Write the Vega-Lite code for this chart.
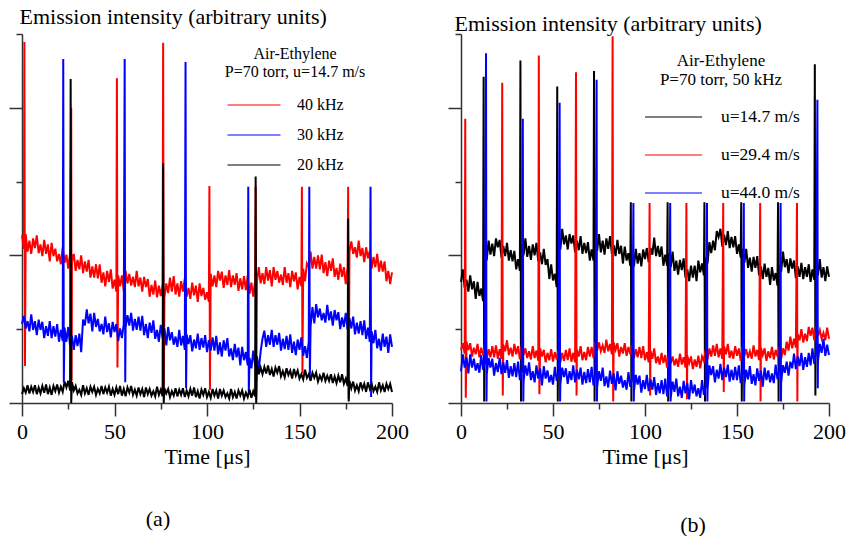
{
"$schema": "https://vega.github.io/schema/vega-lite/v6.json",
"background": "white",
"padding": {"left": 8, "top": 5, "right": 0, "bottom": 0},
"config": {
 "view": {"stroke": null},
 "axis": {"labelFont": "Liberation Serif", "titleFont": "Liberation Serif", "labelColor": "#000", "titleColor": "#000", "domainColor": "#333", "tickColor": "#333", "grid": false, "titleFontWeight": "normal", "labelFontSize": 22, "titleFontSize": 22, "domainWidth": 1.5, "tickWidth": 1.5},
 "legend": {"labelFont": "Liberation Serif", "titleFont": "Liberation Serif", "labelColor": "#000", "titleColor": "#000", "titleFontWeight": "normal", "zindex": 5},
 "title": {"font": "Liberation Serif", "fontWeight": "normal", "fontSize": 22, "color": "#000"}
},
"datasets": {
"aR": [{"s":"r","t":0,"v":2.27},{"s":"r","t":1,"v":2.09},{"s":"r","t":1.3,"v":4.89},{"s":"r","t":1.6,"v":0.5},{"s":"r","t":2,"v":2.29},{"s":"r","t":3,"v":2.05},{"s":"r","t":4,"v":2.2},{"s":"r","t":5,"v":2.02},{"s":"r","t":6,"v":2.23},{"s":"r","t":7,"v":2.1},{"s":"r","t":8,"v":2.27},{"s":"r","t":9,"v":2.03},{"s":"r","t":10,"v":2.15},{"s":"r","t":11,"v":1.99},{"s":"r","t":12,"v":2.21},{"s":"r","t":13,"v":2.02},{"s":"r","t":14,"v":2.15},{"s":"r","t":15,"v":1.92},{"s":"r","t":16,"v":2.17},{"s":"r","t":17,"v":1.99},{"s":"r","t":18,"v":2.09},{"s":"r","t":19,"v":1.92},{"s":"r","t":20,"v":2.02},{"s":"r","t":21,"v":1.88},{"s":"r","t":22,"v":2.11},{"s":"r","t":23,"v":1.9},{"s":"r","t":24,"v":2.01},{"s":"r","t":25,"v":1.82},{"s":"r","t":26,"v":2.03},{"s":"r","t":26.6,"v":4.0},{"s":"r","t":26.8,"v":0.3},{"s":"r","t":27,"v":1.92},{"s":"r","t":28,"v":2.02},{"s":"r","t":29,"v":1.79},{"s":"r","t":30,"v":1.94},{"s":"r","t":31,"v":1.81},{"s":"r","t":32,"v":2.0},{"s":"r","t":33,"v":1.76},{"s":"r","t":34,"v":1.92},{"s":"r","t":35,"v":1.78},{"s":"r","t":36,"v":1.94},{"s":"r","t":37,"v":1.7},{"s":"r","t":38,"v":1.85},{"s":"r","t":39,"v":1.7},{"s":"r","t":40,"v":1.88},{"s":"r","t":41,"v":1.69},{"s":"r","t":42,"v":1.88},{"s":"r","t":43,"v":1.63},{"s":"r","t":44,"v":1.77},{"s":"r","t":45,"v":1.58},{"s":"r","t":46,"v":1.79},{"s":"r","t":47,"v":1.64},{"s":"r","t":48,"v":1.81},{"s":"r","t":49,"v":1.55},{"s":"r","t":50,"v":1.67},{"s":"r","t":51,"v":1.51},{"s":"r","t":51.3,"v":4.4},{"s":"r","t":51.6,"v":0.48},{"s":"r","t":52,"v":1.73},{"s":"r","t":53,"v":1.58},{"s":"r","t":54,"v":1.73},{"s":"r","t":55,"v":1.52},{"s":"r","t":56,"v":1.79},{"s":"r","t":57,"v":1.62},{"s":"r","t":58,"v":1.75},{"s":"r","t":59,"v":1.59},{"s":"r","t":60,"v":1.71},{"s":"r","t":61,"v":1.57},{"s":"r","t":62,"v":1.79},{"s":"r","t":63,"v":1.58},{"s":"r","t":64,"v":1.7},{"s":"r","t":65,"v":1.51},{"s":"r","t":66,"v":1.71},{"s":"r","t":67,"v":1.57},{"s":"r","t":68,"v":1.68},{"s":"r","t":69,"v":1.44},{"s":"r","t":70,"v":1.6},{"s":"r","t":71,"v":1.47},{"s":"r","t":72,"v":1.66},{"s":"r","t":73,"v":1.43},{"s":"r","t":74,"v":1.59},{"s":"r","t":75,"v":1.45},{"s":"r","t":76,"v":1.61},{"s":"r","t":76.3,"v":4.88},{"s":"r","t":76.6,"v":0.1},{"s":"r","t":77,"v":1.43},{"s":"r","t":78,"v":1.62},{"s":"r","t":79,"v":1.49},{"s":"r","t":80,"v":1.7},{"s":"r","t":81,"v":1.51},{"s":"r","t":82,"v":1.72},{"s":"r","t":83,"v":1.47},{"s":"r","t":84,"v":1.62},{"s":"r","t":85,"v":1.44},{"s":"r","t":86,"v":1.65},{"s":"r","t":87,"v":1.51},{"s":"r","t":88,"v":1.69},{"s":"r","t":89,"v":1.44},{"s":"r","t":90,"v":1.56},{"s":"r","t":91,"v":1.41},{"s":"r","t":92,"v":1.63},{"s":"r","t":93,"v":1.46},{"s":"r","t":94,"v":1.59},{"s":"r","t":95,"v":1.37},{"s":"r","t":96,"v":1.62},{"s":"r","t":97,"v":1.45},{"s":"r","t":98,"v":1.56},{"s":"r","t":99,"v":1.4},{"s":"r","t":100,"v":1.5},{"s":"r","t":101,"v":1.37},{"s":"r","t":101.3,"v":2.94},{"s":"r","t":101.6,"v":0.18},{"s":"r","t":102,"v":1.75},{"s":"r","t":103,"v":1.58},{"s":"r","t":104,"v":1.73},{"s":"r","t":105,"v":1.57},{"s":"r","t":106,"v":1.79},{"s":"r","t":107,"v":1.66},{"s":"r","t":108,"v":1.78},{"s":"r","t":109,"v":1.56},{"s":"r","t":110,"v":1.73},{"s":"r","t":111,"v":1.6},{"s":"r","t":112,"v":1.8},{"s":"r","t":113,"v":1.57},{"s":"r","t":114,"v":1.73},{"s":"r","t":115,"v":1.6},{"s":"r","t":116,"v":1.76},{"s":"r","t":117,"v":1.52},{"s":"r","t":118,"v":1.69},{"s":"r","t":119,"v":1.54},{"s":"r","t":120,"v":1.72},{"s":"r","t":121,"v":1.53},{"s":"r","t":122,"v":1.73},{"s":"r","t":123,"v":1.48},{"s":"r","t":124,"v":1.63},{"s":"r","t":125,"v":1.44},{"s":"r","t":126,"v":1.65},{"s":"r","t":126.3,"v":2.93},{"s":"r","t":126.6,"v":0.05},{"s":"r","t":127,"v":1.64},{"s":"r","t":128,"v":1.84},{"s":"r","t":129,"v":1.62},{"s":"r","t":130,"v":1.76},{"s":"r","t":131,"v":1.61},{"s":"r","t":132,"v":1.84},{"s":"r","t":133,"v":1.66},{"s":"r","t":134,"v":1.8},{"s":"r","t":135,"v":1.58},{"s":"r","t":136,"v":1.84},{"s":"r","t":137,"v":1.67},{"s":"r","t":138,"v":1.79},{"s":"r","t":139,"v":1.63},{"s":"r","t":140,"v":1.74},{"s":"r","t":141,"v":1.6},{"s":"r","t":142,"v":1.84},{"s":"r","t":143,"v":1.63},{"s":"r","t":144,"v":1.76},{"s":"r","t":145,"v":1.57},{"s":"r","t":146,"v":1.79},{"s":"r","t":147,"v":1.65},{"s":"r","t":148,"v":1.77},{"s":"r","t":149,"v":1.54},{"s":"r","t":150,"v":1.71},{"s":"r","t":151,"v":1.58},{"s":"r","t":151.3,"v":2.93},{"s":"r","t":151.6,"v":0.4},{"s":"r","t":152,"v":1.82},{"s":"r","t":153,"v":1.65},{"s":"r","t":154,"v":1.89},{"s":"r","t":155,"v":1.84},{"s":"r","t":156,"v":2.05},{"s":"r","t":157,"v":1.82},{"s":"r","t":158,"v":1.98},{"s":"r","t":159,"v":1.82},{"s":"r","t":160,"v":2.0},{"s":"r","t":161,"v":1.81},{"s":"r","t":162,"v":2.01},{"s":"r","t":163,"v":1.76},{"s":"r","t":164,"v":1.91},{"s":"r","t":165,"v":1.72},{"s":"r","t":166,"v":1.93},{"s":"r","t":167,"v":1.79},{"s":"r","t":168,"v":1.96},{"s":"r","t":169,"v":1.71},{"s":"r","t":170,"v":1.83},{"s":"r","t":171,"v":1.67},{"s":"r","t":172,"v":1.89},{"s":"r","t":173,"v":1.71},{"s":"r","t":174,"v":1.84},{"s":"r","t":175,"v":1.61},{"s":"r","t":176,"v":1.85},{"s":"r","t":176.3,"v":2.93},{"s":"r","t":176.6,"v":0.05},{"s":"r","t":177,"v":2.05},{"s":"r","t":178,"v":2.19},{"s":"r","t":179,"v":2.02},{"s":"r","t":180,"v":2.11},{"s":"r","t":181,"v":1.97},{"s":"r","t":182,"v":2.2},{"s":"r","t":183,"v":1.99},{"s":"r","t":184,"v":2.1},{"s":"r","t":185,"v":1.91},{"s":"r","t":186,"v":2.11},{"s":"r","t":187,"v":1.96},{"s":"r","t":188,"v":2.06},{"s":"r","t":189,"v":1.82},{"s":"r","t":190,"v":1.98},{"s":"r","t":191,"v":1.84},{"s":"r","t":192,"v":2.02},{"s":"r","t":193,"v":1.78},{"s":"r","t":194,"v":1.93},{"s":"r","t":195,"v":1.78},{"s":"r","t":196,"v":1.92},{"s":"r","t":197,"v":1.65},{"s":"r","t":198,"v":1.79},{"s":"r","t":199,"v":1.61},{"s":"r","t":200,"v":1.77}],
"aB": [{"s":"b","t":0,"v":1.07},{"s":"b","t":1,"v":1.18},{"s":"b","t":2,"v":1.01},{"s":"b","t":3,"v":1.11},{"s":"b","t":4,"v":0.97},{"s":"b","t":5,"v":1.2},{"s":"b","t":6,"v":0.99},{"s":"b","t":7,"v":1.11},{"s":"b","t":8,"v":0.92},{"s":"b","t":9,"v":1.13},{"s":"b","t":10,"v":0.99},{"s":"b","t":11,"v":1.1},{"s":"b","t":12,"v":0.88},{"s":"b","t":13,"v":1.04},{"s":"b","t":14,"v":0.91},{"s":"b","t":15,"v":1.11},{"s":"b","t":16,"v":0.88},{"s":"b","t":17,"v":1.04},{"s":"b","t":18,"v":0.9},{"s":"b","t":19,"v":1.07},{"s":"b","t":20,"v":0.83},{"s":"b","t":21,"v":0.99},{"s":"b","t":22,"v":0.84},{"s":"b","t":22.3,"v":4.66},{"s":"b","t":22.6,"v":0.28},{"s":"b","t":23,"v":1.02},{"s":"b","t":24,"v":0.83},{"s":"b","t":25,"v":1.03},{"s":"b","t":26,"v":0.77},{"s":"b","t":27,"v":0.91},{"s":"b","t":28,"v":0.72},{"s":"b","t":29,"v":0.92},{"s":"b","t":30,"v":0.77},{"s":"b","t":31,"v":0.94},{"s":"b","t":32,"v":0.69},{"s":"b","t":33,"v":1.13},{"s":"b","t":34,"v":1.05},{"s":"b","t":35,"v":1.27},{"s":"b","t":36,"v":1.08},{"s":"b","t":37,"v":1.21},{"s":"b","t":38,"v":0.97},{"s":"b","t":39,"v":1.22},{"s":"b","t":40,"v":1.03},{"s":"b","t":41,"v":1.14},{"s":"b","t":42,"v":0.97},{"s":"b","t":43,"v":1.07},{"s":"b","t":44,"v":0.93},{"s":"b","t":45,"v":1.17},{"s":"b","t":46,"v":0.96},{"s":"b","t":47,"v":1.08},{"s":"b","t":48,"v":0.89},{"s":"b","t":49,"v":1.1},{"s":"b","t":50,"v":0.96},{"s":"b","t":51,"v":1.07},{"s":"b","t":52,"v":0.84},{"s":"b","t":53,"v":1.01},{"s":"b","t":54,"v":0.88},{"s":"b","t":55,"v":1.07},{"s":"b","t":55.5,"v":4.66},{"s":"b","t":55.8,"v":0.28},{"s":"b","t":56,"v":1.02},{"s":"b","t":57,"v":1.19},{"s":"b","t":58,"v":1.05},{"s":"b","t":59,"v":1.22},{"s":"b","t":60,"v":0.98},{"s":"b","t":61,"v":1.14},{"s":"b","t":62,"v":0.99},{"s":"b","t":63,"v":1.17},{"s":"b","t":64,"v":0.98},{"s":"b","t":65,"v":1.18},{"s":"b","t":66,"v":0.92},{"s":"b","t":67,"v":1.07},{"s":"b","t":68,"v":0.88},{"s":"b","t":69,"v":1.09},{"s":"b","t":70,"v":0.95},{"s":"b","t":71,"v":1.12},{"s":"b","t":72,"v":0.87},{"s":"b","t":73,"v":0.99},{"s":"b","t":74,"v":0.83},{"s":"b","t":75,"v":1.06},{"s":"b","t":76,"v":0.88},{"s":"b","t":77,"v":1.01},{"s":"b","t":78,"v":0.78},{"s":"b","t":79,"v":1.03},{"s":"b","t":80,"v":0.85},{"s":"b","t":81,"v":0.96},{"s":"b","t":82,"v":0.79},{"s":"b","t":83,"v":0.9},{"s":"b","t":84,"v":0.76},{"s":"b","t":85,"v":0.99},{"s":"b","t":86,"v":0.78},{"s":"b","t":87,"v":0.91},{"s":"b","t":88,"v":0.72},{"s":"b","t":88.4,"v":4.62},{"s":"b","t":88.7,"v":0.2},{"s":"b","t":89,"v":0.93},{"s":"b","t":90,"v":0.8},{"s":"b","t":91,"v":0.92},{"s":"b","t":92,"v":0.7},{"s":"b","t":93,"v":0.86},{"s":"b","t":94,"v":0.74},{"s":"b","t":95,"v":0.94},{"s":"b","t":96,"v":0.72},{"s":"b","t":97,"v":0.88},{"s":"b","t":98,"v":0.75},{"s":"b","t":99,"v":0.92},{"s":"b","t":100,"v":0.69},{"s":"b","t":101,"v":0.85},{"s":"b","t":102,"v":0.71},{"s":"b","t":103,"v":0.89},{"s":"b","t":104,"v":0.71},{"s":"b","t":105,"v":0.91},{"s":"b","t":106,"v":0.66},{"s":"b","t":107,"v":0.82},{"s":"b","t":108,"v":0.63},{"s":"b","t":109,"v":0.85},{"s":"b","t":110,"v":0.71},{"s":"b","t":111,"v":0.88},{"s":"b","t":112,"v":0.63},{"s":"b","t":113,"v":0.74},{"s":"b","t":114,"v":0.58},{"s":"b","t":115,"v":0.8},{"s":"b","t":116,"v":0.62},{"s":"b","t":117,"v":0.75},{"s":"b","t":118,"v":0.51},{"s":"b","t":119,"v":0.76},{"s":"b","t":120,"v":0.58},{"s":"b","t":121,"v":0.69},{"s":"b","t":122,"v":0.51},{"s":"b","t":122.3,"v":2.93},{"s":"b","t":122.6,"v":0.13},{"s":"b","t":123,"v":0.61},{"s":"b","t":124,"v":0.47},{"s":"b","t":125,"v":0.71},{"s":"b","t":126,"v":0.51},{"s":"b","t":127,"v":0.63},{"s":"b","t":128,"v":0.45},{"s":"b","t":129,"v":0.7},{"s":"b","t":130,"v":0.87},{"s":"b","t":131,"v":0.98},{"s":"b","t":132,"v":0.76},{"s":"b","t":133,"v":0.92},{"s":"b","t":134,"v":0.79},{"s":"b","t":135,"v":0.99},{"s":"b","t":136,"v":0.76},{"s":"b","t":137,"v":0.92},{"s":"b","t":138,"v":0.79},{"s":"b","t":139,"v":0.95},{"s":"b","t":140,"v":0.71},{"s":"b","t":141,"v":0.87},{"s":"b","t":142,"v":0.73},{"s":"b","t":143,"v":0.91},{"s":"b","t":144,"v":0.72},{"s":"b","t":145,"v":0.93},{"s":"b","t":146,"v":0.68},{"s":"b","t":147,"v":0.83},{"s":"b","t":148,"v":0.65},{"s":"b","t":149,"v":0.86},{"s":"b","t":150,"v":0.72},{"s":"b","t":151,"v":0.89},{"s":"b","t":152,"v":0.64},{"s":"b","t":153,"v":0.77},{"s":"b","t":154,"v":0.61},{"s":"b","t":155,"v":0.83},{"s":"b","t":155.3,"v":2.93},{"s":"b","t":155.6,"v":0.35},{"s":"b","t":156,"v":1.04},{"s":"b","t":157,"v":1.3},{"s":"b","t":158,"v":1.08},{"s":"b","t":159,"v":1.34},{"s":"b","t":160,"v":1.16},{"s":"b","t":161,"v":1.28},{"s":"b","t":162,"v":1.12},{"s":"b","t":163,"v":1.22},{"s":"b","t":164,"v":1.09},{"s":"b","t":165,"v":1.33},{"s":"b","t":166,"v":1.12},{"s":"b","t":167,"v":1.24},{"s":"b","t":168,"v":1.05},{"s":"b","t":169,"v":1.26},{"s":"b","t":170,"v":1.12},{"s":"b","t":171,"v":1.23},{"s":"b","t":172,"v":1.0},{"s":"b","t":173,"v":1.16},{"s":"b","t":174,"v":1.03},{"s":"b","t":175,"v":1.22},{"s":"b","t":176,"v":0.99},{"s":"b","t":177,"v":1.15},{"s":"b","t":178,"v":1.01},{"s":"b","t":179,"v":1.17},{"s":"b","t":180,"v":0.93},{"s":"b","t":181,"v":1.09},{"s":"b","t":182,"v":0.94},{"s":"b","t":183,"v":1.11},{"s":"b","t":184,"v":0.92},{"s":"b","t":185,"v":1.12},{"s":"b","t":186,"v":0.87},{"s":"b","t":187,"v":1.02},{"s":"b","t":188,"v":0.83},{"s":"b","t":188.4,"v":2.93},{"s":"b","t":188.7,"v":0.08},{"s":"b","t":189,"v":0.97},{"s":"b","t":190,"v":0.81},{"s":"b","t":191,"v":0.99},{"s":"b","t":192,"v":0.74},{"s":"b","t":193,"v":0.87},{"s":"b","t":194,"v":0.71},{"s":"b","t":195,"v":0.94},{"s":"b","t":196,"v":0.76},{"s":"b","t":197,"v":0.9},{"s":"b","t":198,"v":0.68},{"s":"b","t":199,"v":0.93},{"s":"b","t":200,"v":0.76}],
"aK": [{"s":"k","t":0,"v":0.12},{"s":"k","t":1,"v":0.2},{"s":"k","t":2,"v":0.14},{"s":"k","t":3,"v":0.24},{"s":"k","t":4,"v":0.13},{"s":"k","t":5,"v":0.22},{"s":"k","t":6,"v":0.15},{"s":"k","t":7,"v":0.24},{"s":"k","t":8,"v":0.12},{"s":"k","t":9,"v":0.21},{"s":"k","t":10,"v":0.13},{"s":"k","t":11,"v":0.23},{"s":"k","t":12,"v":0.14},{"s":"k","t":13,"v":0.25},{"s":"k","t":14,"v":0.12},{"s":"k","t":15,"v":0.21},{"s":"k","t":16,"v":0.11},{"s":"k","t":17,"v":0.23},{"s":"k","t":18,"v":0.16},{"s":"k","t":19,"v":0.25},{"s":"k","t":20,"v":0.14},{"s":"k","t":21,"v":0.22},{"s":"k","t":22,"v":0.15},{"s":"k","t":23,"v":0.29},{"s":"k","t":24,"v":0.21},{"s":"k","t":25,"v":0.3},{"s":"k","t":26,"v":0.17},{"s":"k","t":26.3,"v":4.39},{"s":"k","t":26.6,"v":0.0},{"s":"k","t":27,"v":0.28},{"s":"k","t":28,"v":0.17},{"s":"k","t":29,"v":0.23},{"s":"k","t":30,"v":0.13},{"s":"k","t":31,"v":0.18},{"s":"k","t":32,"v":0.11},{"s":"k","t":33,"v":0.24},{"s":"k","t":34,"v":0.13},{"s":"k","t":35,"v":0.2},{"s":"k","t":36,"v":0.11},{"s":"k","t":37,"v":0.22},{"s":"k","t":38,"v":0.15},{"s":"k","t":39,"v":0.22},{"s":"k","t":40,"v":0.11},{"s":"k","t":41,"v":0.19},{"s":"k","t":42,"v":0.13},{"s":"k","t":43,"v":0.23},{"s":"k","t":44,"v":0.12},{"s":"k","t":45,"v":0.21},{"s":"k","t":46,"v":0.14},{"s":"k","t":47,"v":0.22},{"s":"k","t":48,"v":0.1},{"s":"k","t":49,"v":0.19},{"s":"k","t":50,"v":0.11},{"s":"k","t":51,"v":0.21},{"s":"k","t":52,"v":0.12},{"s":"k","t":53,"v":0.23},{"s":"k","t":54,"v":0.1},{"s":"k","t":55,"v":0.19},{"s":"k","t":56,"v":0.09},{"s":"k","t":57,"v":0.21},{"s":"k","t":58,"v":0.14},{"s":"k","t":59,"v":0.23},{"s":"k","t":60,"v":0.11},{"s":"k","t":61,"v":0.18},{"s":"k","t":62,"v":0.1},{"s":"k","t":63,"v":0.21},{"s":"k","t":64,"v":0.12},{"s":"k","t":65,"v":0.19},{"s":"k","t":66,"v":0.08},{"s":"k","t":67,"v":0.21},{"s":"k","t":68,"v":0.12},{"s":"k","t":69,"v":0.19},{"s":"k","t":70,"v":0.1},{"s":"k","t":71,"v":0.16},{"s":"k","t":72,"v":0.09},{"s":"k","t":73,"v":0.22},{"s":"k","t":74,"v":0.11},{"s":"k","t":75,"v":0.18},{"s":"k","t":76,"v":0.09},{"s":"k","t":76.3,"v":3.25},{"s":"k","t":76.6,"v":0.0},{"s":"k","t":77,"v":0.2},{"s":"k","t":78,"v":0.13},{"s":"k","t":79,"v":0.19},{"s":"k","t":80,"v":0.08},{"s":"k","t":81,"v":0.16},{"s":"k","t":82,"v":0.1},{"s":"k","t":83,"v":0.2},{"s":"k","t":84,"v":0.09},{"s":"k","t":85,"v":0.18},{"s":"k","t":86,"v":0.11},{"s":"k","t":87,"v":0.2},{"s":"k","t":88,"v":0.08},{"s":"k","t":89,"v":0.17},{"s":"k","t":90,"v":0.09},{"s":"k","t":91,"v":0.19},{"s":"k","t":92,"v":0.1},{"s":"k","t":93,"v":0.21},{"s":"k","t":94,"v":0.08},{"s":"k","t":95,"v":0.16},{"s":"k","t":96,"v":0.06},{"s":"k","t":97,"v":0.18},{"s":"k","t":98,"v":0.11},{"s":"k","t":99,"v":0.2},{"s":"k","t":100,"v":0.08},{"s":"k","t":101,"v":0.15},{"s":"k","t":102,"v":0.07},{"s":"k","t":103,"v":0.19},{"s":"k","t":104,"v":0.1},{"s":"k","t":105,"v":0.17},{"s":"k","t":106,"v":0.06},{"s":"k","t":107,"v":0.19},{"s":"k","t":108,"v":0.1},{"s":"k","t":109,"v":0.17},{"s":"k","t":110,"v":0.08},{"s":"k","t":111,"v":0.13},{"s":"k","t":112,"v":0.06},{"s":"k","t":113,"v":0.19},{"s":"k","t":114,"v":0.08},{"s":"k","t":115,"v":0.15},{"s":"k","t":116,"v":0.06},{"s":"k","t":117,"v":0.17},{"s":"k","t":118,"v":0.1},{"s":"k","t":119,"v":0.17},{"s":"k","t":120,"v":0.06},{"s":"k","t":121,"v":0.14},{"s":"k","t":122,"v":0.08},{"s":"k","t":123,"v":0.18},{"s":"k","t":124,"v":0.07},{"s":"k","t":125,"v":0.16},{"s":"k","t":126,"v":0.09},{"s":"k","t":126.3,"v":3.07},{"s":"k","t":126.6,"v":0.0},{"s":"k","t":127,"v":0.51},{"s":"k","t":128,"v":0.39},{"s":"k","t":129,"v":0.48},{"s":"k","t":130,"v":0.39},{"s":"k","t":131,"v":0.49},{"s":"k","t":132,"v":0.4},{"s":"k","t":133,"v":0.51},{"s":"k","t":134,"v":0.38},{"s":"k","t":135,"v":0.46},{"s":"k","t":136,"v":0.36},{"s":"k","t":137,"v":0.48},{"s":"k","t":138,"v":0.41},{"s":"k","t":139,"v":0.5},{"s":"k","t":140,"v":0.36},{"s":"k","t":141,"v":0.43},{"s":"k","t":142,"v":0.35},{"s":"k","t":143,"v":0.47},{"s":"k","t":144,"v":0.38},{"s":"k","t":145,"v":0.44},{"s":"k","t":146,"v":0.33},{"s":"k","t":147,"v":0.46},{"s":"k","t":148,"v":0.37},{"s":"k","t":149,"v":0.44},{"s":"k","t":150,"v":0.33},{"s":"k","t":151,"v":0.39},{"s":"k","t":152,"v":0.32},{"s":"k","t":153,"v":0.45},{"s":"k","t":154,"v":0.34},{"s":"k","t":155,"v":0.39},{"s":"k","t":156,"v":0.3},{"s":"k","t":157,"v":0.41},{"s":"k","t":158,"v":0.34},{"s":"k","t":159,"v":0.41},{"s":"k","t":160,"v":0.29},{"s":"k","t":161,"v":0.37},{"s":"k","t":162,"v":0.31},{"s":"k","t":163,"v":0.41},{"s":"k","t":164,"v":0.3},{"s":"k","t":165,"v":0.37},{"s":"k","t":166,"v":0.3},{"s":"k","t":167,"v":0.39},{"s":"k","t":168,"v":0.27},{"s":"k","t":169,"v":0.36},{"s":"k","t":170,"v":0.27},{"s":"k","t":171,"v":0.37},{"s":"k","t":172,"v":0.28},{"s":"k","t":173,"v":0.39},{"s":"k","t":174,"v":0.26},{"s":"k","t":175,"v":0.33},{"s":"k","t":176,"v":0.23},{"s":"k","t":176.3,"v":2.5},{"s":"k","t":176.6,"v":0.02},{"s":"k","t":177,"v":0.3},{"s":"k","t":178,"v":0.2},{"s":"k","t":179,"v":0.29},{"s":"k","t":180,"v":0.17},{"s":"k","t":181,"v":0.24},{"s":"k","t":182,"v":0.16},{"s":"k","t":183,"v":0.28},{"s":"k","t":184,"v":0.19},{"s":"k","t":185,"v":0.26},{"s":"k","t":186,"v":0.15},{"s":"k","t":187,"v":0.28},{"s":"k","t":188,"v":0.19},{"s":"k","t":189,"v":0.26},{"s":"k","t":190,"v":0.16},{"s":"k","t":191,"v":0.22},{"s":"k","t":192,"v":0.15},{"s":"k","t":193,"v":0.28},{"s":"k","t":194,"v":0.17},{"s":"k","t":195,"v":0.24},{"s":"k","t":196,"v":0.15},{"s":"k","t":197,"v":0.26},{"s":"k","t":198,"v":0.19},{"s":"k","t":199,"v":0.26},{"s":"k","t":200,"v":0.15}],
"bK": [{"s":"k","t":0,"v":1.64},{"s":"k","t":1,"v":1.81},{"s":"k","t":2,"v":1.56},{"s":"k","t":3,"v":1.67},{"s":"k","t":4,"v":1.51},{"s":"k","t":5,"v":1.73},{"s":"k","t":6,"v":1.54},{"s":"k","t":7,"v":1.65},{"s":"k","t":8,"v":1.41},{"s":"k","t":9,"v":1.64},{"s":"k","t":10,"v":1.45},{"s":"k","t":11,"v":1.55},{"s":"k","t":12,"v":1.38},{"s":"k","t":12.3,"v":4.42},{"s":"k","t":12.6,"v":0.02},{"s":"k","t":13,"v":1.92},{"s":"k","t":14,"v":1.94},{"s":"k","t":15,"v":2.2},{"s":"k","t":16,"v":2.01},{"s":"k","t":17,"v":2.16},{"s":"k","t":18,"v":1.99},{"s":"k","t":19,"v":2.23},{"s":"k","t":20,"v":2.11},{"s":"k","t":21,"v":2.21},{"s":"k","t":22,"v":1.97},{"s":"k","t":23,"v":2.13},{"s":"k","t":24,"v":1.99},{"s":"k","t":25,"v":2.17},{"s":"k","t":26,"v":1.93},{"s":"k","t":27,"v":2.07},{"s":"k","t":28,"v":1.92},{"s":"k","t":29,"v":2.06},{"s":"k","t":30,"v":1.81},{"s":"k","t":31,"v":1.95},{"s":"k","t":32,"v":1.79},{"s":"k","t":32.3,"v":4.64},{"s":"k","t":32.6,"v":0.02},{"s":"k","t":33,"v":2.15},{"s":"k","t":34,"v":2.0},{"s":"k","t":35,"v":2.23},{"s":"k","t":36,"v":1.98},{"s":"k","t":37,"v":2.13},{"s":"k","t":38,"v":1.94},{"s":"k","t":39,"v":2.15},{"s":"k","t":40,"v":2.0},{"s":"k","t":41,"v":2.17},{"s":"k","t":42,"v":1.92},{"s":"k","t":43,"v":2.04},{"s":"k","t":44,"v":1.88},{"s":"k","t":45,"v":2.09},{"s":"k","t":46,"v":1.87},{"s":"k","t":47,"v":1.95},{"s":"k","t":48,"v":1.68},{"s":"k","t":49,"v":1.88},{"s":"k","t":50,"v":1.66},{"s":"k","t":51,"v":1.75},{"s":"k","t":52,"v":1.57},{"s":"k","t":52.3,"v":4.29},{"s":"k","t":52.6,"v":0.02},{"s":"k","t":53,"v":2.17},{"s":"k","t":54,"v":2.08},{"s":"k","t":55,"v":2.36},{"s":"k","t":56,"v":2.15},{"s":"k","t":57,"v":2.27},{"s":"k","t":58,"v":2.08},{"s":"k","t":59,"v":2.29},{"s":"k","t":60,"v":2.16},{"s":"k","t":61,"v":2.27},{"s":"k","t":62,"v":2.04},{"s":"k","t":63,"v":2.2},{"s":"k","t":64,"v":2.07},{"s":"k","t":65,"v":2.26},{"s":"k","t":66,"v":2.02},{"s":"k","t":67,"v":2.17},{"s":"k","t":68,"v":2.03},{"s":"k","t":69,"v":2.18},{"s":"k","t":70,"v":1.93},{"s":"k","t":71,"v":2.08},{"s":"k","t":72,"v":1.93},{"s":"k","t":72.3,"v":4.5},{"s":"k","t":72.6,"v":0.02},{"s":"k","t":73,"v":2.22},{"s":"k","t":74,"v":2.06},{"s":"k","t":75,"v":2.29},{"s":"k","t":76,"v":2.04},{"s":"k","t":77,"v":2.2},{"s":"k","t":78,"v":2.01},{"s":"k","t":79,"v":2.23},{"s":"k","t":80,"v":2.09},{"s":"k","t":81,"v":2.26},{"s":"k","t":82,"v":2.02},{"s":"k","t":83,"v":2.14},{"s":"k","t":84,"v":1.99},{"s":"k","t":85,"v":2.21},{"s":"k","t":86,"v":2.02},{"s":"k","t":87,"v":2.13},{"s":"k","t":88,"v":1.89},{"s":"k","t":89,"v":2.12},{"s":"k","t":90,"v":1.93},{"s":"k","t":91,"v":2.03},{"s":"k","t":92,"v":1.86},{"s":"k","t":92.3,"v":2.72},{"s":"k","t":92.6,"v":0.02},{"s":"k","t":93,"v":1.98},{"s":"k","t":94,"v":1.85},{"s":"k","t":95,"v":2.09},{"s":"k","t":96,"v":1.89},{"s":"k","t":97,"v":2.03},{"s":"k","t":98,"v":1.85},{"s":"k","t":99,"v":2.08},{"s":"k","t":100,"v":1.95},{"s":"k","t":101,"v":2.1},{"s":"k","t":102,"v":1.91},{"s":"k","t":103,"v":2.1},{"s":"k","t":104,"v":2.01},{"s":"k","t":105,"v":2.24},{"s":"k","t":106,"v":1.99},{"s":"k","t":107,"v":2.13},{"s":"k","t":108,"v":1.98},{"s":"k","t":109,"v":2.12},{"s":"k","t":110,"v":1.86},{"s":"k","t":111,"v":2.01},{"s":"k","t":112,"v":1.86},{"s":"k","t":112.3,"v":2.72},{"s":"k","t":112.6,"v":0.02},{"s":"k","t":113,"v":2.02},{"s":"k","t":114,"v":1.84},{"s":"k","t":115,"v":2.05},{"s":"k","t":116,"v":1.79},{"s":"k","t":117,"v":1.93},{"s":"k","t":118,"v":1.74},{"s":"k","t":119,"v":1.94},{"s":"k","t":120,"v":1.8},{"s":"k","t":121,"v":1.96},{"s":"k","t":122,"v":1.7},{"s":"k","t":123,"v":1.81},{"s":"k","t":124,"v":1.65},{"s":"k","t":125,"v":1.86},{"s":"k","t":126,"v":1.7},{"s":"k","t":127,"v":1.86},{"s":"k","t":128,"v":1.65},{"s":"k","t":129,"v":1.93},{"s":"k","t":130,"v":1.77},{"s":"k","t":131,"v":1.89},{"s":"k","t":132,"v":1.73},{"s":"k","t":132.3,"v":2.72},{"s":"k","t":132.6,"v":0.02},{"s":"k","t":133,"v":1.97},{"s":"k","t":134,"v":1.89},{"s":"k","t":135,"v":2.18},{"s":"k","t":136,"v":2.03},{"s":"k","t":137,"v":2.2},{"s":"k","t":138,"v":2.07},{"s":"k","t":139,"v":2.33},{"s":"k","t":140,"v":2.25},{"s":"k","t":141,"v":2.36},{"s":"k","t":142,"v":2.12},{"s":"k","t":143,"v":2.28},{"s":"k","t":144,"v":2.14},{"s":"k","t":145,"v":2.33},{"s":"k","t":146,"v":2.1},{"s":"k","t":147,"v":2.25},{"s":"k","t":148,"v":2.11},{"s":"k","t":149,"v":2.26},{"s":"k","t":150,"v":2.02},{"s":"k","t":151,"v":2.15},{"s":"k","t":152,"v":1.97},{"s":"k","t":152.3,"v":2.72},{"s":"k","t":152.6,"v":0.02},{"s":"k","t":153,"v":2.09},{"s":"k","t":154,"v":1.9},{"s":"k","t":155,"v":2.09},{"s":"k","t":156,"v":1.83},{"s":"k","t":157,"v":1.97},{"s":"k","t":158,"v":1.78},{"s":"k","t":159,"v":1.98},{"s":"k","t":160,"v":1.83},{"s":"k","t":161,"v":1.99},{"s":"k","t":162,"v":1.73},{"s":"k","t":163,"v":1.85},{"s":"k","t":164,"v":1.68},{"s":"k","t":165,"v":1.89},{"s":"k","t":166,"v":1.71},{"s":"k","t":167,"v":1.83},{"s":"k","t":168,"v":1.6},{"s":"k","t":169,"v":1.84},{"s":"k","t":170,"v":1.66},{"s":"k","t":171,"v":1.76},{"s":"k","t":172,"v":1.59},{"s":"k","t":172.3,"v":2.72},{"s":"k","t":172.6,"v":0.02},{"s":"k","t":173,"v":1.87},{"s":"k","t":174,"v":1.78},{"s":"k","t":175,"v":2.05},{"s":"k","t":176,"v":1.84},{"s":"k","t":177,"v":1.95},{"s":"k","t":178,"v":1.76},{"s":"k","t":179,"v":1.96},{"s":"k","t":180,"v":1.82},{"s":"k","t":181,"v":1.93},{"s":"k","t":182,"v":1.69},{"s":"k","t":183,"v":1.85},{"s":"k","t":184,"v":1.71},{"s":"k","t":185,"v":1.9},{"s":"k","t":186,"v":1.68},{"s":"k","t":187,"v":1.84},{"s":"k","t":188,"v":1.71},{"s":"k","t":189,"v":1.88},{"s":"k","t":190,"v":1.64},{"s":"k","t":191,"v":1.81},{"s":"k","t":192,"v":1.67},{"s":"k","t":192.3,"v":4.59},{"s":"k","t":192.6,"v":0.1},{"s":"k","t":193,"v":1.9},{"s":"k","t":194,"v":1.73},{"s":"k","t":195,"v":1.95},{"s":"k","t":196,"v":1.7},{"s":"k","t":197,"v":1.84},{"s":"k","t":198,"v":1.65},{"s":"k","t":199,"v":1.85},{"s":"k","t":200,"v":1.71}],
"bR": [{"s":"r","t":0,"v":0.72},{"s":"r","t":1,"v":0.81},{"s":"r","t":2,"v":0.67},{"s":"r","t":2.3,"v":3.85},{"s":"r","t":2.6,"v":0.07},{"s":"r","t":3,"v":0.83},{"s":"r","t":4,"v":0.72},{"s":"r","t":5,"v":0.81},{"s":"r","t":6,"v":0.63},{"s":"r","t":7,"v":0.75},{"s":"r","t":8,"v":0.66},{"s":"r","t":9,"v":0.8},{"s":"r","t":10,"v":0.62},{"s":"r","t":11,"v":0.75},{"s":"r","t":12,"v":0.65},{"s":"r","t":13,"v":0.78},{"s":"r","t":14,"v":0.6},{"s":"r","t":15,"v":0.73},{"s":"r","t":16,"v":0.62},{"s":"r","t":17,"v":0.77},{"s":"r","t":18,"v":0.62},{"s":"r","t":19,"v":0.78},{"s":"r","t":20,"v":0.6},{"s":"r","t":21,"v":0.73},{"s":"r","t":22,"v":0.6},{"s":"r","t":22.4,"v":4.34},{"s":"r","t":22.7,"v":0.1},{"s":"r","t":23,"v":0.79},{"s":"r","t":24,"v":0.7},{"s":"r","t":25,"v":0.85},{"s":"r","t":26,"v":0.65},{"s":"r","t":27,"v":0.75},{"s":"r","t":28,"v":0.63},{"s":"r","t":29,"v":0.8},{"s":"r","t":30,"v":0.66},{"s":"r","t":31,"v":0.77},{"s":"r","t":32,"v":0.59},{"s":"r","t":33,"v":0.79},{"s":"r","t":34,"v":0.65},{"s":"r","t":35,"v":0.74},{"s":"r","t":36,"v":0.61},{"s":"r","t":37,"v":0.7},{"s":"r","t":38,"v":0.59},{"s":"r","t":39,"v":0.77},{"s":"r","t":40,"v":0.61},{"s":"r","t":41,"v":0.71},{"s":"r","t":42,"v":0.57},{"s":"r","t":42.3,"v":4.71},{"s":"r","t":42.6,"v":0.12},{"s":"r","t":43,"v":0.74},{"s":"r","t":44,"v":0.63},{"s":"r","t":45,"v":0.72},{"s":"r","t":46,"v":0.55},{"s":"r","t":47,"v":0.68},{"s":"r","t":48,"v":0.58},{"s":"r","t":49,"v":0.73},{"s":"r","t":50,"v":0.56},{"s":"r","t":51,"v":0.69},{"s":"r","t":52,"v":0.59},{"s":"r","t":53,"v":0.72},{"s":"r","t":54,"v":0.55},{"s":"r","t":55,"v":0.68},{"s":"r","t":56,"v":0.57},{"s":"r","t":57,"v":0.72},{"s":"r","t":58,"v":0.58},{"s":"r","t":59,"v":0.74},{"s":"r","t":60,"v":0.56},{"s":"r","t":61,"v":0.68},{"s":"r","t":62,"v":0.55},{"s":"r","t":62.5,"v":4.48},{"s":"r","t":62.8,"v":0.1},{"s":"r","t":63,"v":0.72},{"s":"r","t":64,"v":0.63},{"s":"r","t":65,"v":0.77},{"s":"r","t":66,"v":0.58},{"s":"r","t":67,"v":0.69},{"s":"r","t":68,"v":0.58},{"s":"r","t":69,"v":0.76},{"s":"r","t":70,"v":0.63},{"s":"r","t":71,"v":0.76},{"s":"r","t":72,"v":0.61},{"s":"r","t":73,"v":0.83},{"s":"r","t":74,"v":0.71},{"s":"r","t":75,"v":0.82},{"s":"r","t":76,"v":0.7},{"s":"r","t":77,"v":0.78},{"s":"r","t":78,"v":0.68},{"s":"r","t":79,"v":0.86},{"s":"r","t":80,"v":0.7},{"s":"r","t":81,"v":0.8},{"s":"r","t":82,"v":0.66},{"s":"r","t":82.4,"v":4.97},{"s":"r","t":82.7,"v":0.02},{"s":"r","t":83,"v":0.82},{"s":"r","t":84,"v":0.72},{"s":"r","t":85,"v":0.81},{"s":"r","t":86,"v":0.63},{"s":"r","t":87,"v":0.76},{"s":"r","t":88,"v":0.67},{"s":"r","t":89,"v":0.81},{"s":"r","t":90,"v":0.64},{"s":"r","t":91,"v":0.76},{"s":"r","t":92,"v":0.66},{"s":"r","t":93,"v":0.78},{"s":"r","t":94,"v":0.61},{"s":"r","t":95,"v":0.73},{"s":"r","t":96,"v":0.62},{"s":"r","t":97,"v":0.76},{"s":"r","t":98,"v":0.61},{"s":"r","t":99,"v":0.77},{"s":"r","t":100,"v":0.58},{"s":"r","t":101,"v":0.69},{"s":"r","t":102,"v":0.55},{"s":"r","t":102.5,"v":2.71},{"s":"r","t":102.8,"v":0.1},{"s":"r","t":103,"v":0.71},{"s":"r","t":104,"v":0.6},{"s":"r","t":105,"v":0.74},{"s":"r","t":106,"v":0.54},{"s":"r","t":107,"v":0.63},{"s":"r","t":108,"v":0.52},{"s":"r","t":109,"v":0.68},{"s":"r","t":110,"v":0.54},{"s":"r","t":111,"v":0.65},{"s":"r","t":112,"v":0.48},{"s":"r","t":113,"v":0.68},{"s":"r","t":114,"v":0.54},{"s":"r","t":115,"v":0.63},{"s":"r","t":116,"v":0.51},{"s":"r","t":117,"v":0.6},{"s":"r","t":118,"v":0.49},{"s":"r","t":119,"v":0.67},{"s":"r","t":120,"v":0.52},{"s":"r","t":121,"v":0.62},{"s":"r","t":122,"v":0.48},{"s":"r","t":122.5,"v":2.71},{"s":"r","t":122.8,"v":0.05},{"s":"r","t":123,"v":0.64},{"s":"r","t":124,"v":0.54},{"s":"r","t":125,"v":0.63},{"s":"r","t":126,"v":0.46},{"s":"r","t":127,"v":0.59},{"s":"r","t":128,"v":0.49},{"s":"r","t":129,"v":0.64},{"s":"r","t":130,"v":0.47},{"s":"r","t":131,"v":0.63},{"s":"r","t":132,"v":0.57},{"s":"r","t":133,"v":0.73},{"s":"r","t":134,"v":0.59},{"s":"r","t":135,"v":0.74},{"s":"r","t":136,"v":0.63},{"s":"r","t":137,"v":0.78},{"s":"r","t":138,"v":0.64},{"s":"r","t":139,"v":0.8},{"s":"r","t":140,"v":0.62},{"s":"r","t":141,"v":0.74},{"s":"r","t":142,"v":0.6},{"s":"r","t":142.5,"v":2.71},{"s":"r","t":142.8,"v":0.15},{"s":"r","t":143,"v":0.77},{"s":"r","t":144,"v":0.66},{"s":"r","t":145,"v":0.8},{"s":"r","t":146,"v":0.61},{"s":"r","t":147,"v":0.71},{"s":"r","t":148,"v":0.6},{"s":"r","t":149,"v":0.77},{"s":"r","t":150,"v":0.64},{"s":"r","t":151,"v":0.74},{"s":"r","t":152,"v":0.57},{"s":"r","t":153,"v":0.77},{"s":"r","t":154,"v":0.64},{"s":"r","t":155,"v":0.73},{"s":"r","t":156,"v":0.61},{"s":"r","t":157,"v":0.7},{"s":"r","t":158,"v":0.6},{"s":"r","t":159,"v":0.78},{"s":"r","t":160,"v":0.63},{"s":"r","t":161,"v":0.72},{"s":"r","t":162,"v":0.58},{"s":"r","t":162.6,"v":2.71},{"s":"r","t":162.8,"v":0.02},{"s":"r","t":163,"v":0.75},{"s":"r","t":164,"v":0.65},{"s":"r","t":165,"v":0.74},{"s":"r","t":166,"v":0.57},{"s":"r","t":167,"v":0.7},{"s":"r","t":168,"v":0.61},{"s":"r","t":169,"v":0.76},{"s":"r","t":170,"v":0.59},{"s":"r","t":171,"v":0.72},{"s":"r","t":172,"v":0.63},{"s":"r","t":173,"v":0.76},{"s":"r","t":174,"v":0.6},{"s":"r","t":175,"v":0.74},{"s":"r","t":176,"v":0.65},{"s":"r","t":177,"v":0.83},{"s":"r","t":178,"v":0.71},{"s":"r","t":179,"v":0.9},{"s":"r","t":180,"v":0.74},{"s":"r","t":181,"v":0.87},{"s":"r","t":182,"v":0.75},{"s":"r","t":182.6,"v":2.71},{"s":"r","t":182.8,"v":0.02},{"s":"r","t":183,"v":0.93},{"s":"r","t":184,"v":0.85},{"s":"r","t":185,"v":1.0},{"s":"r","t":186,"v":0.82},{"s":"r","t":187,"v":0.94},{"s":"r","t":188,"v":0.84},{"s":"r","t":189,"v":1.03},{"s":"r","t":190,"v":0.91},{"s":"r","t":191,"v":1.02},{"s":"r","t":192,"v":0.85},{"s":"r","t":193,"v":1.04},{"s":"r","t":194,"v":0.91},{"s":"r","t":195,"v":0.99},{"s":"r","t":196,"v":0.87},{"s":"r","t":197,"v":0.95},{"s":"r","t":198,"v":0.85},{"s":"r","t":199,"v":1.02},{"s":"r","t":200,"v":0.87}],
"bB": [{"s":"b","t":0,"v":0.43},{"s":"b","t":1,"v":0.66},{"s":"b","t":2,"v":0.48},{"s":"b","t":3,"v":0.62},{"s":"b","t":4,"v":0.4},{"s":"b","t":5,"v":0.66},{"s":"b","t":6,"v":0.48},{"s":"b","t":7,"v":0.6},{"s":"b","t":8,"v":0.44},{"s":"b","t":9,"v":0.54},{"s":"b","t":10,"v":0.41},{"s":"b","t":11,"v":0.65},{"s":"b","t":12,"v":0.45},{"s":"b","t":13,"v":0.57},{"s":"b","t":13.6,"v":4.74},{"s":"b","t":13.85,"v":0.02},{"s":"b","t":14,"v":0.39},{"s":"b","t":15,"v":0.61},{"s":"b","t":16,"v":0.48},{"s":"b","t":17,"v":0.6},{"s":"b","t":18,"v":0.37},{"s":"b","t":19,"v":0.54},{"s":"b","t":20,"v":0.42},{"s":"b","t":21,"v":0.61},{"s":"b","t":22,"v":0.39},{"s":"b","t":23,"v":0.55},{"s":"b","t":24,"v":0.41},{"s":"b","t":25,"v":0.58},{"s":"b","t":26,"v":0.34},{"s":"b","t":27,"v":0.5},{"s":"b","t":28,"v":0.36},{"s":"b","t":29,"v":0.54},{"s":"b","t":30,"v":0.35},{"s":"b","t":31,"v":0.56},{"s":"b","t":32,"v":0.31},{"s":"b","t":33,"v":0.47},{"s":"b","t":33.6,"v":3.85},{"s":"b","t":33.85,"v":0.02},{"s":"b","t":34,"v":0.29},{"s":"b","t":35,"v":0.51},{"s":"b","t":36,"v":0.37},{"s":"b","t":37,"v":0.55},{"s":"b","t":38,"v":0.31},{"s":"b","t":39,"v":0.43},{"s":"b","t":40,"v":0.28},{"s":"b","t":41,"v":0.51},{"s":"b","t":42,"v":0.33},{"s":"b","t":43,"v":0.47},{"s":"b","t":44,"v":0.24},{"s":"b","t":45,"v":0.5},{"s":"b","t":46,"v":0.33},{"s":"b","t":47,"v":0.44},{"s":"b","t":48,"v":0.28},{"s":"b","t":49,"v":0.38},{"s":"b","t":50,"v":0.25},{"s":"b","t":51,"v":0.49},{"s":"b","t":52,"v":0.3},{"s":"b","t":53,"v":0.43},{"s":"b","t":53.6,"v":4.07},{"s":"b","t":53.85,"v":0.02},{"s":"b","t":54,"v":0.25},{"s":"b","t":55,"v":0.48},{"s":"b","t":56,"v":0.35},{"s":"b","t":57,"v":0.47},{"s":"b","t":58,"v":0.26},{"s":"b","t":59,"v":0.43},{"s":"b","t":60,"v":0.31},{"s":"b","t":61,"v":0.51},{"s":"b","t":62,"v":0.28},{"s":"b","t":63,"v":0.45},{"s":"b","t":64,"v":0.32},{"s":"b","t":65,"v":0.48},{"s":"b","t":66,"v":0.25},{"s":"b","t":67,"v":0.42},{"s":"b","t":68,"v":0.27},{"s":"b","t":69,"v":0.46},{"s":"b","t":70,"v":0.28},{"s":"b","t":71,"v":0.49},{"s":"b","t":72,"v":0.24},{"s":"b","t":73,"v":0.4},{"s":"b","t":73.7,"v":4.38},{"s":"b","t":73.9,"v":0.02},{"s":"b","t":74,"v":0.22},{"s":"b","t":75,"v":0.43},{"s":"b","t":76,"v":0.3},{"s":"b","t":77,"v":0.48},{"s":"b","t":78,"v":0.23},{"s":"b","t":79,"v":0.36},{"s":"b","t":80,"v":0.21},{"s":"b","t":81,"v":0.44},{"s":"b","t":82,"v":0.26},{"s":"b","t":83,"v":0.4},{"s":"b","t":84,"v":0.17},{"s":"b","t":85,"v":0.43},{"s":"b","t":86,"v":0.26},{"s":"b","t":87,"v":0.37},{"s":"b","t":88,"v":0.21},{"s":"b","t":89,"v":0.31},{"s":"b","t":90,"v":0.18},{"s":"b","t":91,"v":0.42},{"s":"b","t":92,"v":0.22},{"s":"b","t":93,"v":0.34},{"s":"b","t":93.7,"v":2.71},{"s":"b","t":93.9,"v":0.02},{"s":"b","t":94,"v":0.16},{"s":"b","t":95,"v":0.38},{"s":"b","t":96,"v":0.25},{"s":"b","t":97,"v":0.37},{"s":"b","t":98,"v":0.14},{"s":"b","t":99,"v":0.31},{"s":"b","t":100,"v":0.19},{"s":"b","t":101,"v":0.38},{"s":"b","t":102,"v":0.16},{"s":"b","t":103,"v":0.32},{"s":"b","t":104,"v":0.18},{"s":"b","t":105,"v":0.35},{"s":"b","t":106,"v":0.11},{"s":"b","t":107,"v":0.27},{"s":"b","t":108,"v":0.13},{"s":"b","t":109,"v":0.31},{"s":"b","t":110,"v":0.12},{"s":"b","t":111,"v":0.33},{"s":"b","t":112,"v":0.09},{"s":"b","t":113,"v":0.25},{"s":"b","t":113.7,"v":2.71},{"s":"b","t":113.9,"v":0.02},{"s":"b","t":114,"v":0.07},{"s":"b","t":115,"v":0.29},{"s":"b","t":116,"v":0.15},{"s":"b","t":117,"v":0.33},{"s":"b","t":118,"v":0.09},{"s":"b","t":119,"v":0.22},{"s":"b","t":120,"v":0.07},{"s":"b","t":121,"v":0.3},{"s":"b","t":122,"v":0.13},{"s":"b","t":123,"v":0.27},{"s":"b","t":124,"v":0.05},{"s":"b","t":125,"v":0.31},{"s":"b","t":126,"v":0.13},{"s":"b","t":127,"v":0.25},{"s":"b","t":128,"v":0.09},{"s":"b","t":129,"v":0.2},{"s":"b","t":130,"v":0.07},{"s":"b","t":131,"v":0.31},{"s":"b","t":132,"v":0.11},{"s":"b","t":133,"v":0.24},{"s":"b","t":133.7,"v":2.71},{"s":"b","t":133.9,"v":0.02},{"s":"b","t":134,"v":0.18},{"s":"b","t":135,"v":0.51},{"s":"b","t":136,"v":0.38},{"s":"b","t":137,"v":0.5},{"s":"b","t":138,"v":0.28},{"s":"b","t":139,"v":0.45},{"s":"b","t":140,"v":0.33},{"s":"b","t":141,"v":0.53},{"s":"b","t":142,"v":0.31},{"s":"b","t":143,"v":0.48},{"s":"b","t":144,"v":0.35},{"s":"b","t":145,"v":0.52},{"s":"b","t":146,"v":0.29},{"s":"b","t":147,"v":0.45},{"s":"b","t":148,"v":0.31},{"s":"b","t":149,"v":0.49},{"s":"b","t":150,"v":0.31},{"s":"b","t":151,"v":0.51},{"s":"b","t":152,"v":0.27},{"s":"b","t":153,"v":0.42},{"s":"b","t":153.7,"v":2.71},{"s":"b","t":153.9,"v":0.02},{"s":"b","t":154,"v":0.24},{"s":"b","t":155,"v":0.45},{"s":"b","t":156,"v":0.32},{"s":"b","t":157,"v":0.5},{"s":"b","t":158,"v":0.26},{"s":"b","t":159,"v":0.39},{"s":"b","t":160,"v":0.24},{"s":"b","t":161,"v":0.47},{"s":"b","t":162,"v":0.3},{"s":"b","t":163,"v":0.44},{"s":"b","t":164,"v":0.22},{"s":"b","t":165,"v":0.48},{"s":"b","t":166,"v":0.31},{"s":"b","t":167,"v":0.44},{"s":"b","t":168,"v":0.28},{"s":"b","t":169,"v":0.4},{"s":"b","t":170,"v":0.27},{"s":"b","t":171,"v":0.52},{"s":"b","t":172,"v":0.32},{"s":"b","t":173,"v":0.46},{"s":"b","t":173.7,"v":2.71},{"s":"b","t":173.9,"v":0.02},{"s":"b","t":174,"v":0.28},{"s":"b","t":175,"v":0.51},{"s":"b","t":176,"v":0.41},{"s":"b","t":177,"v":0.56},{"s":"b","t":178,"v":0.37},{"s":"b","t":179,"v":0.56},{"s":"b","t":180,"v":0.47},{"s":"b","t":181,"v":0.67},{"s":"b","t":182,"v":0.46},{"s":"b","t":183,"v":0.63},{"s":"b","t":184,"v":0.5},{"s":"b","t":185,"v":0.68},{"s":"b","t":186,"v":0.45},{"s":"b","t":187,"v":0.62},{"s":"b","t":188,"v":0.49},{"s":"b","t":189,"v":0.68},{"s":"b","t":190,"v":0.51},{"s":"b","t":191,"v":0.74},{"s":"b","t":192,"v":0.53},{"s":"b","t":193,"v":0.71},{"s":"b","t":193.7,"v":4.11},{"s":"b","t":193.9,"v":0.2},{"s":"b","t":194,"v":0.56},{"s":"b","t":195,"v":0.8},{"s":"b","t":196,"v":0.68},{"s":"b","t":197,"v":0.87},{"s":"b","t":198,"v":0.64},{"s":"b","t":199,"v":0.79},{"s":"b","t":200,"v":0.65}]
},
"spacing": 69,
"bounds": "flush",
"resolve": {"scale": {"x": "independent", "y": "independent", "color": "independent"}, "legend": {"color": "independent"}},
"hconcat": [
 {
  "width": 370, "height": 369,
  "title": {"text": "(a)", "orient": "bottom", "anchor": "middle", "dx": -49, "offset": 42},
  "resolve": {"axis": {"x": "independent", "y": "independent"}},
  "layer": [
   {"data": {"name": "aR"}, "mark": {"type": "line", "strokeWidth": 2},
    "encoding": {
     "x": {"field": "t", "type": "quantitative", "scale": {"domain": [0, 200], "nice": false, "zero": false},
       "axis": {"orient": "bottom", "values": [0, 50, 100, 150, 200], "tickSize": 13, "labelPadding": 5, "labelFlush": false, "labelOverlap": false, "title": "Time [μs]", "titlePadding": 4}},
     "y": {"field": "v", "type": "quantitative", "scale": {"domain": [0, 5], "nice": false},
       "axis": {"orient": "left", "values": [0, 2, 4], "tickSize": 13, "labels": false, "title": "Emission intensity (arbitrary units)", "titleAngle": 0, "titleAlign": "left", "titleBaseline": "alphabetic", "titleX": -3, "titleY": -11}},
     "color": {"field": "s", "type": "nominal",
       "scale": {"domain": ["r", "b", "k"], "range": ["#ff0000", "#0000ff", "#000000"]},
       "legend": {"orient": "none", "legendX": 203, "legendY": 12, "values": ["r", "b", "k"], "title": ["Air-Ethylene", "P=70 torr, u=14.7 m/s"], "titleFontSize": 16, "titleAlign": "center", "titleAnchor": "middle", "titleLineHeight": 18, "titlePadding": 14, "symbolType": "M-2.65,0H2.65", "symbolSize": 400, "symbolStrokeWidth": 1.2, "labelFontSize": 16, "labelOffset": 32, "rowPadding": 11,
         "labelExpr": "datum.value === 'r' ? '40 kHz' : datum.value === 'b' ? '30 kHz' : '20 kHz'",
         "encode": {"title": {"update": {"dx": {"value": 2}}}}}}
    }},
   {"data": {"name": "aB"}, "mark": {"type": "line", "strokeWidth": 2},
    "encoding": {
     "x": {"field": "t", "type": "quantitative", "axis": {"orient": "bottom", "values": [25, 75, 125, 175], "tickSize": 6, "labels": false, "domain": false, "title": null}},
     "y": {"field": "v", "type": "quantitative", "axis": {"orient": "left", "values": [1, 3, 5], "tickSize": 6, "labels": false, "domain": false, "title": null}},
     "color": {"field": "s", "type": "nominal"}
    }},
   {"data": {"name": "aK"}, "mark": {"type": "line", "strokeWidth": 2},
    "encoding": {
     "x": {"field": "t", "type": "quantitative", "axis": null},
     "y": {"field": "v", "type": "quantitative", "axis": null},
     "color": {"field": "s", "type": "nominal"}
    }}
  ]
 },
 {
  "width": 368, "height": 369,
  "title": {"text": "(b)", "orient": "bottom", "anchor": "middle", "dx": 48, "offset": 48},
  "resolve": {"axis": {"x": "independent", "y": "independent"}},
  "layer": [
   {"data": {"name": "bK"}, "mark": {"type": "line", "strokeWidth": 2},
    "encoding": {
     "x": {"field": "t", "type": "quantitative", "scale": {"domain": [0, 200], "nice": false, "zero": false},
       "axis": {"orient": "bottom", "values": [0, 50, 100, 150, 200], "tickSize": 13, "labelPadding": 5, "labelFlush": false, "labelOverlap": false, "title": "Time [μs]", "titlePadding": 4}},
     "y": {"field": "v", "type": "quantitative", "scale": {"domain": [0, 5], "nice": false},
       "axis": {"orient": "left", "values": [0, 2, 4], "tickSize": 13, "labels": false, "title": "Emission intensity (arbitrary units)", "titleAngle": 0, "titleAlign": "left", "titleBaseline": "alphabetic", "titleX": -7, "titleY": -4}},
     "color": {"field": "s", "type": "nominal",
       "scale": {"domain": ["k", "r", "b"], "range": ["#000000", "#ff0000", "#0000ff"]},
       "legend": {"orient": "none", "legendX": 183, "legendY": 19, "values": ["k", "r", "b"], "title": ["Air-Ethylene", "P=70 torr, 50 kHz"], "titleFontSize": 17, "titleAlign": "center", "titleAnchor": "middle", "titleLineHeight": 18.5, "titlePadding": -1, "symbolType": "stroke", "symbolSize": 3249, "symbolStrokeWidth": 1.2, "labelFontSize": 17.5, "labelOffset": 18, "rowPadding": -28,
         "labelExpr": "datum.value === 'k' ? 'u=14.7 m/s' : datum.value === 'r' ? 'u=29.4 m/s' : 'u=44.0 m/s'",
         "encode": {"title": {"update": {"dx": {"value": -1}}}}}}
    }},
   {"data": {"name": "bR"}, "mark": {"type": "line", "strokeWidth": 2},
    "encoding": {
     "x": {"field": "t", "type": "quantitative", "axis": {"orient": "bottom", "values": [25, 75, 125, 175], "tickSize": 6, "labels": false, "domain": false, "title": null}},
     "y": {"field": "v", "type": "quantitative", "axis": {"orient": "left", "values": [1, 3, 5], "tickSize": 6, "labels": false, "domain": false, "title": null}},
     "color": {"field": "s", "type": "nominal"}
    }},
   {"data": {"name": "bB"}, "mark": {"type": "line", "strokeWidth": 2},
    "encoding": {
     "x": {"field": "t", "type": "quantitative", "axis": null},
     "y": {"field": "v", "type": "quantitative", "axis": null},
     "color": {"field": "s", "type": "nominal"}
    }}
  ]
 }
]
}
